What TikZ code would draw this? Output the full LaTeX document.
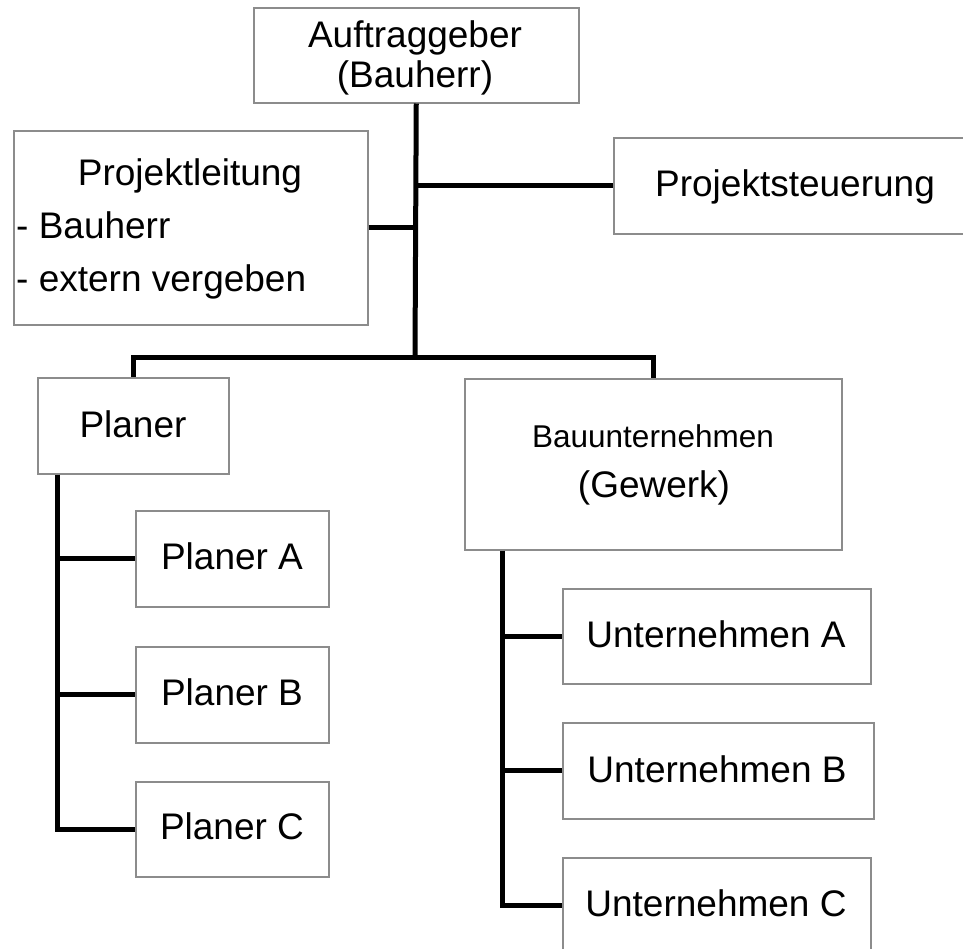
\documentclass[tikz,border=0pt]{standalone}
\usepackage{fontspec}
\setmainfont{Liberation Sans}
\definecolor{boxgray}{RGB}{140,140,140}
\begin{document}
\begin{tikzpicture}[x=1pt,y=-1pt,
  box/.style={draw=boxgray, line width=1.5pt, fill=white, inner sep=0pt, anchor=north west},
  conn/.style={draw=black, line width=5pt, line cap=butt, line join=miter},
  txt/.style={inner sep=0pt, anchor=base, font=\fontsize{37}{40}\selectfont},
  smalltxt/.style={inner sep=0pt, anchor=base, font=\fontsize{31.5}{36}\selectfont}]
\useasboundingbox (0,0) rectangle (963,948);
\clip (0,0) rectangle (963,948);
\fill[white] (0,0) rectangle (963,948);

% boxes
\node[box, minimum width=325pt, minimum height=95pt] (ag) at (253,7) {};
\node[box, minimum width=354pt, minimum height=194pt] (pl) at (13,130) {};
\node[box, minimum width=350pt, minimum height=96pt] (ps) at (613,137) {};
\node[box, minimum width=191pt, minimum height=96pt] (pla) at (37,377) {};
\node[box, minimum width=377pt, minimum height=171pt] (bau) at (464,378) {};
\node[box, minimum width=193pt, minimum height=96pt] (pa) at (135,510) {};
\node[box, minimum width=193pt, minimum height=96pt] (pb) at (135,646) {};
\node[box, minimum width=193pt, minimum height=95pt] (pc) at (135,781) {};
\node[box, minimum width=308pt, minimum height=95pt] (ua) at (562,588) {};
\node[box, minimum width=311pt, minimum height=96pt] (ub) at (562,722) {};
\node[box, minimum width=308pt, minimum height=95pt] (uc) at (562,857) {};

% texts
\node[txt] (agt1) at (415,47) {Auftraggeber};
\node[txt] (agt2) at (415,87) {(Bauherr)};
\node[txt] (plt1) at (190,185) {Projektleitung};
\node[txt, anchor=base west] (plt2) at (16,238) {- Bauherr};
\node[txt, anchor=base west] (plt3) at (16,291) {- extern vergeben};
\node[txt] (pst) at (795,196) {Projektsteuerung};
\node[txt] (plat) at (133,437) {Planer};
\node[smalltxt] (baut1) at (653,447) {Bauunternehmen};
\node[txt] (baut2) at (654,497) {(Gewerk)};
\node[txt] (pat) at (232,569) {Planer A};
\node[txt] (pbt) at (232,705) {Planer B};
\node[txt] (pct) at (232,839) {Planer C};
\node[txt] (uat) at (716,647) {Unternehmen A};
\node[txt] (ubt) at (717,782) {Unternehmen B};
\node[txt] (uct) at (716,916) {Unternehmen C};

% connectors
\coordinate (j) at (415,357);
\draw[conn] (ag.south) -- (j);
\draw[conn] (pl.east) -- (pl.east -| ag.south);
\draw[conn] (ps.west) -- (ps.west -| ag.south);
\draw[conn] (pla.north) |- (j) -| (bau.north);
\coordinate (pv) at ([xshift=20pt]pla.south west);
\draw[conn] (pv) |- (pc.west);
\draw[conn] (pv |- pa.west) -- (pa.west);
\draw[conn] (pv |- pb.west) -- (pb.west);
\coordinate (uv) at ([xshift=38pt]bau.south west);
\draw[conn] (uv) |- (uc.west);
\draw[conn] (uv |- ua.west) -- (ua.west);
\draw[conn] (uv |- ub.west) -- (ub.west);
\end{tikzpicture}
\end{document}
